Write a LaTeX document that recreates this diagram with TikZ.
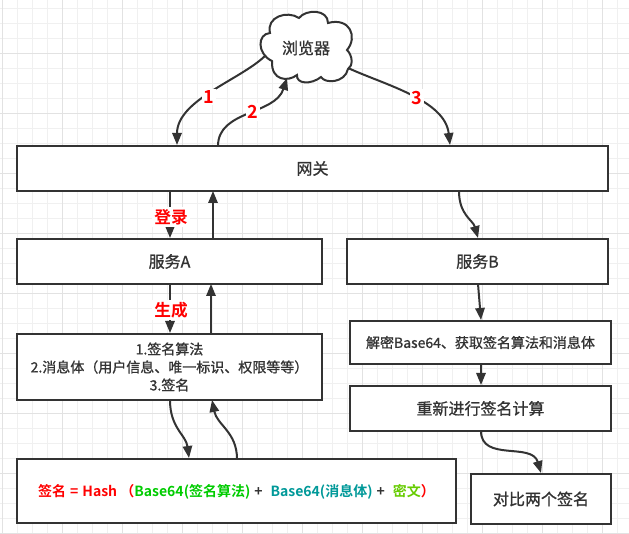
\documentclass[tikz,border=0pt]{standalone}
\usepackage{fontspec}
\usetikzlibrary{arrows.meta,calc}
\setmainfont[BoldFont={Noto Sans CJK SC Bold}]{Noto Sans CJK SC}
\newfontfamily\cjkmed[FakeBold=1]{Noto Sans CJK SC}
\definecolor{ink}{HTML}{333333}
\definecolor{gridminor}{HTML}{F0F0F0}
\definecolor{gridmajor}{HTML}{E2E2E2}
\definecolor{signgreen}{HTML}{00CC00}
\definecolor{signteal}{HTML}{009999}
\definecolor{signlime}{HTML}{66CC00}
\newcommand{\fsL}{\fontsize{12}{15}\selectfont}
\newcommand{\fsM}{\fontsize{10.5}{13.5}\selectfont}
\newcommand{\gapS}{\hspace{3pt}}
\tikzset{
  x=0.75pt,y=-0.75pt,
  boxnode/.style={draw=ink,line width=1.5pt,fill=white,outer sep=0pt,inner sep=0pt,text=ink,font=\cjkmed\fsL,align=center},
  conn/.style={draw=ink,line width=1.5pt,-{Triangle[length=9pt,width=7pt]}},
  redlabel/.style={fill=white,text=red,font=\fontsize{12.5}{15}\selectfont\bfseries,inner sep=1.5pt},
  digitlabel/.style={redlabel,font=\fontsize{13.5}{15}\selectfont\bfseries},
}
\begin{document}
\begin{tikzpicture}
\useasboundingbox (0,0) rectangle (629,534);
\fill[white] (0,0) rectangle (629,534);
\foreach \k in {0,...,41} \draw[gridminor,line width=0.75pt] ({2+15*\k},0) -- ({2+15*\k},534);
\foreach \k in {0,...,35} \draw[gridminor,line width=0.75pt] (0,{9+15*\k}) -- (629,{9+15*\k});
\foreach \k in {0,...,10} \draw[gridmajor,line width=0.75pt] ({2+60*\k},0) -- ({2+60*\k},534);
\foreach \k in {1,...,9} \draw[gridmajor,line width=0.75pt] (0,{-6+60*\k}) -- (629,{-6+60*\k});

% boxes
\node[boxnode,minimum width=591*0.75pt,minimum height=45*0.75pt] (gw) at (312.5,168.5) {网关};
\node[boxnode,minimum width=305*0.75pt,minimum height=45*0.75pt] (sa) at (169.5,261.5) {服务A};
\node[boxnode,minimum width=261*0.75pt,minimum height=45*0.75pt] (sb) at (477.5,261.5) {服务B};
\node[boxnode,minimum width=305*0.75pt,minimum height=66*0.75pt,font=\cjkmed\fsM] (msg) at (169.5,367) {1.签名算法\\2.消息体（用户信息、唯一标识、权限等等）\\3.签名};
\node[boxnode,minimum width=439*0.75pt,minimum height=64*0.75pt] (sign) at (236.5,491) {};
\node[boxnode,minimum width=261*0.75pt,minimum height=43*0.75pt,font=\cjkmed\fsM] (dec) at (480.5,342.5) {解密Base64、获取签名算法和消息体};
\node[boxnode,minimum width=261*0.75pt,minimum height=45*0.75pt] (re) at (480.5,408.5) {重新进行签名计算};
\node[boxnode,minimum width=140*0.75pt,minimum height=50*0.75pt] (cmp) at (541,499) {对比两个签名};
\node[font=\fsM\bfseries,inner sep=0pt] (signtext) at (236.5,492) {\textcolor{red}{签名\gapS=\gapS Hash （}\textcolor{signgreen}{Base64(签名算法)}\gapS\textcolor{ink}{+}\gapS\gapS\textcolor{signteal}{Base64(消息体)}\gapS\textcolor{ink}{+}\gapS\gapS\textcolor{signlime}{密文}\textcolor{red}{）}};

% cloud
\draw[ink,line width=1.5pt,fill=white]
  (299,18) .. controls (306,9) and (328,9) .. (328,23)
  .. controls (350,17) and (358,37) .. (347,50)
  .. controls (353,56) and (353,66) .. (348,69)
  .. controls (345,83) and (325,84) .. (321,77)
  .. controls (311,85) and (296,84) .. (297,75)
  .. controls (288,82) and (271,81) .. (272,61)
  .. controls (257,54) and (257,34) .. (270,33)
  .. controls (266,17) and (287,10) .. (299,18) -- cycle;
\node[text=ink,font=\cjkmed\fsL,inner sep=0pt] (browser) at (306,48) {浏览器};
\coordinate (c1) at ($(browser)+(-41,8)$);
\coordinate (c2) at ($(browser)+(-19,30)$);
\coordinate (c3) at ($(browser)+(42,20)$);

% anchors on the boxes
\coordinate (g1) at ($(gw.north west)+(160,-1)$);
\coordinate (g2) at ($(gw.north west)+(201,0)$);
\coordinate (g3) at ($(gw.north west)+(433,-1)$);
\coordinate (gsa) at ($(gw.south west)+(153,0)$);
\coordinate (gsb) at ($(gw.south west)+(196,0)$);
\coordinate (gb) at ($(gw.south west)+(442,0)$);
\coordinate (sa1) at ($(sa.north west)+(153,-1)$);
\coordinate (sa2) at ($(sa.north west)+(196,0)$);
\coordinate (sa3) at ($(sa.south west)+(153,0)$);
\coordinate (sa4) at ($(sa.south west)+(194,0)$);
\coordinate (m1) at ($(msg.north west)+(153,-1)$);
\coordinate (m2) at ($(msg.north west)+(194,0)$);
\coordinate (m3) at ($(msg.south west)+(153,0)$);
\coordinate (m4) at ($(msg.south west)+(195,0)$);
\coordinate (s1) at ($(sign.north west)+(172,-1)$);
\coordinate (s2) at ($(sign.north west)+(220,0)$);
\coordinate (b1) at ($(sb.north west)+(131,-1)$);
\coordinate (b2) at ($(sb.south west)+(131,0)$);
\coordinate (d1) at ($(dec.north west)+(131,-1)$);
\coordinate (d2) at ($(dec.south west)+(131,0)$);
\coordinate (r1) at ($(re.north west)+(131,-1)$);
\coordinate (r2) at ($(re.south west)+(131,0)$);
\coordinate (k1) at ($(cmp.north west)+(70,-1)$);

% connectors
\draw[conn] (c1) .. controls (240,80) and (177,100) .. (g1);
\draw[conn] (g2) .. controls (218,110) and (275,115) .. (c2);
\draw[conn] (c3) .. controls (385,85) and (445,100) .. (g3);
\draw[conn] (gsa) -- (sa1);
\draw[conn] (sa2) -- (gsb);
\draw[conn] (sa3) -- (m1);
\draw[conn] (m2) -- (sa4);
\draw[conn] (m3) .. controls (170,428) and (186,435) .. (s1);
\draw[conn] (s2) .. controls (237,432) and (217,425) .. (m4);
\draw[conn] (gb) .. controls (459,215) and (473,220) .. (b1);
\draw[conn] (b2) -- (d1);
\draw[conn] (d2) -- (r1);
\draw[conn] (r2) .. controls (481,462) and (532,442) .. (k1);

% labels
\node[digitlabel] (n1) at (209,97) {1};
\node[digitlabel] (n2) at (253,112) {2};
\node[digitlabel] (n3) at (417,98) {3};
\node[redlabel] (nlogin) at (171,217) {登录};
\node[redlabel] (ngen) at (171,310) {生成};
\end{tikzpicture}
\end{document}
